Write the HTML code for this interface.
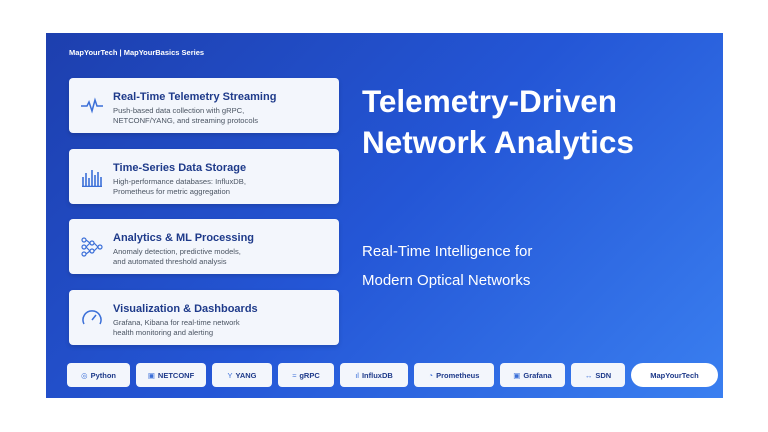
<!DOCTYPE html><html><head><style>
*{margin:0;padding:0;box-sizing:border-box}
body{width:768px;height:432px;background:#fff;position:relative;font-family:"Liberation Sans",sans-serif;overflow:hidden}
.p{position:absolute;left:46px;top:33px;width:677px;height:365px;background:linear-gradient(135deg,#1d3fae 0%,#2456d6 50%,#3a7ff0 100%)}
.hdr{position:absolute;left:69px;top:48px;color:#fff;font-size:7.5px;font-weight:bold}
.c{position:absolute;left:69px;width:270px;height:55px;background:#f3f6fc;border-radius:4px;box-shadow:0 2px 4px rgba(0,0,0,.15)}
.c .i{position:absolute;left:12px;top:18px;width:22px;height:20px;color:#3b6fd8}
.c h3{position:absolute;left:44px;top:13px;font-size:11px;color:#1e3a8a;font-weight:bold}
.c p{position:absolute;left:44px;top:28px;font-size:7.6px;color:#4b5563;line-height:10px}
.t{position:absolute;left:362px;top:81px;color:#fff;font-size:31.5px;font-weight:bold;line-height:41px}
.s{position:absolute;left:362px;top:237px;color:#fff;font-size:15px;line-height:29px}
.ch{position:absolute;top:363px;height:24px;background:#f3f6fc;border-radius:4px;font-size:7.5px;font-weight:bold;color:#1e3a8a;display:flex;align-items:center;justify-content:center;gap:3px}
.ch b{color:#3b6fd8;font-weight:normal}
</style></head><body>
<div class="p"></div>
<div class="hdr">MapYourTech | MapYourBasics Series</div>
<div class="c" style="top:78px"><svg class="i" viewBox="0 0 22 20"><path d="M0 10h6l2-4 3 9 3-11 2 6h6" fill="none" stroke="#3b6fd8" stroke-width="1.5"/></svg><h3>Real-Time Telemetry Streaming</h3><p>Push-based data collection with gRPC,<br>NETCONF/YANG, and streaming protocols</p></div>
<div class="c" style="top:149px"><svg class="i" viewBox="0 0 22 20"><path d="M2 19V10M5 19V6M8 19V11M11 19V3M14 19V8M17 19V5M20 19V10M1 19.5h20" stroke="#3b6fd8" stroke-width="1.6"/></svg><h3>Time-Series Data Storage</h3><p>High-performance databases: InfluxDB,<br>Prometheus for metric aggregation</p></div>
<div class="c" style="top:219px"><svg class="i" viewBox="0 0 22 20"><g fill="none" stroke="#3b6fd8" stroke-width="1.2"><circle cx="3" cy="3" r="2"/><circle cx="3" cy="10" r="2"/><circle cx="3" cy="17" r="2"/><circle cx="11" cy="6" r="2"/><circle cx="11" cy="14" r="2"/><circle cx="19" cy="10" r="2"/><path d="M5 3l4 3M5 10l4-4M5 10l4 4M5 17l4-3M13 6l4 4M13 14l4-4"/></g></svg><h3>Analytics &amp; ML Processing</h3><p>Anomaly detection, predictive models,<br>and automated threshold analysis</p></div>
<div class="c" style="top:290px"><svg class="i" viewBox="0 0 22 20"><path d="M3 16A9 9 0 1 1 19 16M11 12l4-5" fill="none" stroke="#3b6fd8" stroke-width="1.5"/></svg><h3>Visualization &amp; Dashboards</h3><p>Grafana, Kibana for real-time network<br>health monitoring and alerting</p></div>
<div class="t">Telemetry-Driven<br>Network Analytics</div>
<div class="s">Real-Time Intelligence for<br>Modern Optical Networks</div>
<div class="ch" style="left:67px;width:63px"><b>◎</b>Python</div>
<div class="ch" style="left:136px;width:70px"><b>▣</b>NETCONF</div>
<div class="ch" style="left:212px;width:60px"><b>Y</b>YANG</div>
<div class="ch" style="left:278px;width:56px"><b>≈</b>gRPC</div>
<div class="ch" style="left:340px;width:68px"><b>ıl</b>InfluxDB</div>
<div class="ch" style="left:414px;width:80px"><b>◔</b>Prometheus</div>
<div class="ch" style="left:500px;width:65px"><b>▣</b>Grafana</div>
<div class="ch" style="left:571px;width:54px"><b>↔</b>SDN</div>
<div class="ch" style="left:631px;width:87px;border-radius:12px;background:#fff">MapYourTech</div>
</body></html>
